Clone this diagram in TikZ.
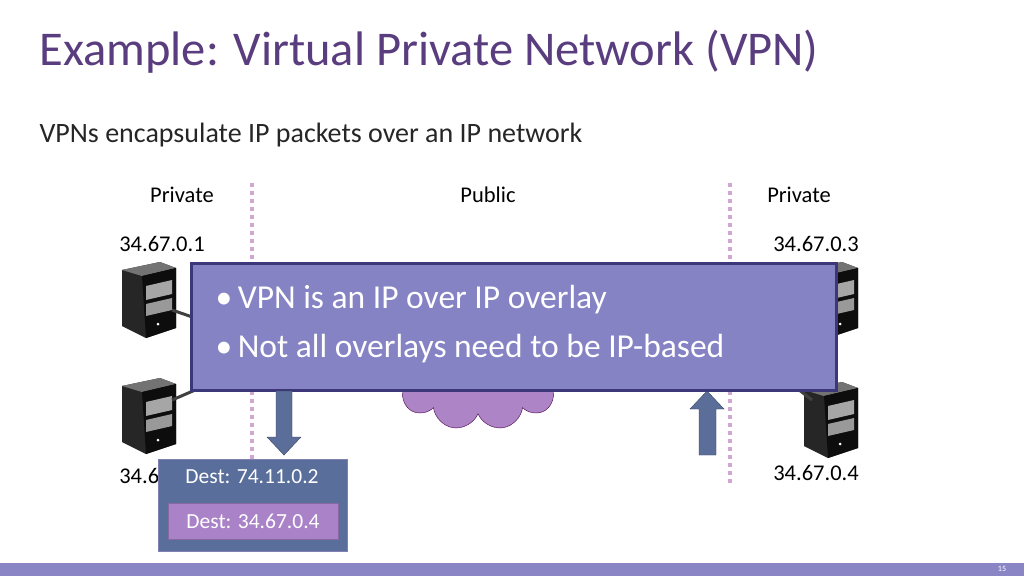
\documentclass[tikz,border=0pt]{standalone}
\usepackage{fontspec}
\setmainfont{Carlito}
\usetikzlibrary{shapes.symbols}
\begin{document}
\begin{tikzpicture}[x=1pt,y=-1pt,
  lbl/.style={font=\fontsize{22.5}{26}\selectfont, text=black},
  dots/.style={draw=violet!35, line width=4pt, dash pattern=on 4pt off 4pt},
  link/.style={draw=black!75, line width=3pt}]
\useasboundingbox (0,0) rectangle (1024,576);
\fill[white] (0,0) rectangle (1024,576);
\definecolor{ttl}{HTML}{5A3D7E}
\node[anchor=west, text=ttl, font=\fontsize{48.5}{54}\selectfont] (title) at (36,52) {Example: Virtual Private Network (VPN)};
\node[anchor=west, font=\fontsize{28}{32}\selectfont, text=black!85] (sub) at (36,135) {VPNs encapsulate IP packets over an IP network};
\node[lbl] (p1) at (182,195) {Private};
\node[lbl] (pub) at (488,195) {Public};
\node[lbl] (p2) at (799,195) {Private};
\node[lbl] (a1) at (162,244) {34.67.0.1};
\node[lbl] (a3) at (816,244) {34.67.0.3};
\node[lbl] (a4) at (816,473) {34.67.0.4};
\node[lbl] (a2) at (162,476) {34.67.0.2};
\coordinate (d1t) at (252,183); \coordinate (d1b) at (252,485);
\coordinate (d2t) at (730,183); \coordinate (d2b) at (730,485);
\draw[dots] (d1t) -- (d1b);
\draw[dots] (d2t) -- (d2b);
% cloud
\definecolor{cld}{HTML}{AD84C6}
\node[cloud, cloud puffs=11, draw=violet!60!black, fill=cld, minimum width=175pt, minimum height=110pt] (cloud) at (478,375) {};
% servers
\tikzset{server/.pic={
  \fill[black!85] (-28,-28) -- (10,-36) -- (26,-30) -- (26,30) -- (-4,40) -- (-28,28) -- cycle;
  \fill[black!55] (-28,-28) -- (10,-36) -- (26,-30) -- (-8,-22) -- cycle;
  \fill[black!95] (-8,-22) -- (26,-30) -- (26,30) -- (-4,40) -- cycle;
  \fill[black!35] (-4,-12) -- (22,-18) -- (22,-4) -- (-4,2) -- cycle;
  \fill[black!40] (-4,6) -- (22,0) -- (22,12) -- (-4,18) -- cycle;
  \fill[white] (8,26) circle (1.5);
}}
\pic at (150,298) {server};
\pic at (150,414) {server};
\pic at (832,298) {server};
\pic at (832,418) {server};
\coordinate (s1) at (172,310); \coordinate (s2) at (172,400);
\coordinate (s3) at (812,310); \coordinate (s4) at (812,400);
\draw[link] (s1) -- (230,330);
\draw[link] (s2) -- (230,375);
\draw[link] (s3) -- (780,330);
\draw[link] (s4) -- (780,375);
% overlay box
\definecolor{boxf}{HTML}{8583C4}
\definecolor{boxd}{HTML}{3B3779}
\node[draw=boxd, line width=3pt, fill=boxf, minimum width=645pt, minimum height=127pt, anchor=north west, inner sep=0] (box) at (190,262) {};
\node[anchor=west, text=white, font=\fontsize{33.5}{38}\selectfont, align=left] (t1) at (212,300) {\textbullet\,VPN is an IP over IP overlay};
\node[anchor=west, text=white, font=\fontsize{33.5}{38}\selectfont, align=left] (t2) at (212,349) {\textbullet\,Not all overlays need to be IP-based};
% arrows
\definecolor{arr}{HTML}{5B6E99}
\draw[draw=arr!60!black, fill=arr] (276,391) -- (292,391) -- (292,437) -- (301,437) -- (284,455) -- (267,437) -- (276,437) -- cycle;
\draw[draw=arr!60!black, fill=arr] (699,455) -- (716,455) -- (716,409) -- (724,409) -- (707,391) -- (690,409) -- (699,409) -- cycle;
% packet
\definecolor{pk}{HTML}{5A6E9B}
\definecolor{pin}{HTML}{AA82C8}
\node[draw=black!60!blue!50, fill=pk, line width=1pt, minimum width=189pt, minimum height=92pt, anchor=north west, inner sep=0] (pkt) at (158,459) {};
\node[text=white, font=\fontsize{21.5}{24}\selectfont] (outer) at (252,477) {Dest: 74.11.0.2};
\node[fill=pin, draw=pin!80!black, minimum width=170pt, minimum height=36pt, inner sep=0, text=white, font=\fontsize{21.5}{24}\selectfont] (inner) at (253,521) {Dest: 34.67.0.4};
% footer
\definecolor{ft}{HTML}{8A86C6}
\fill[ft] (0,563) rectangle (1024,576);
\node[text=white, font=\fontsize{8}{9}\selectfont] (pg) at (1002,569) {15};
\end{tikzpicture}
\end{document}
